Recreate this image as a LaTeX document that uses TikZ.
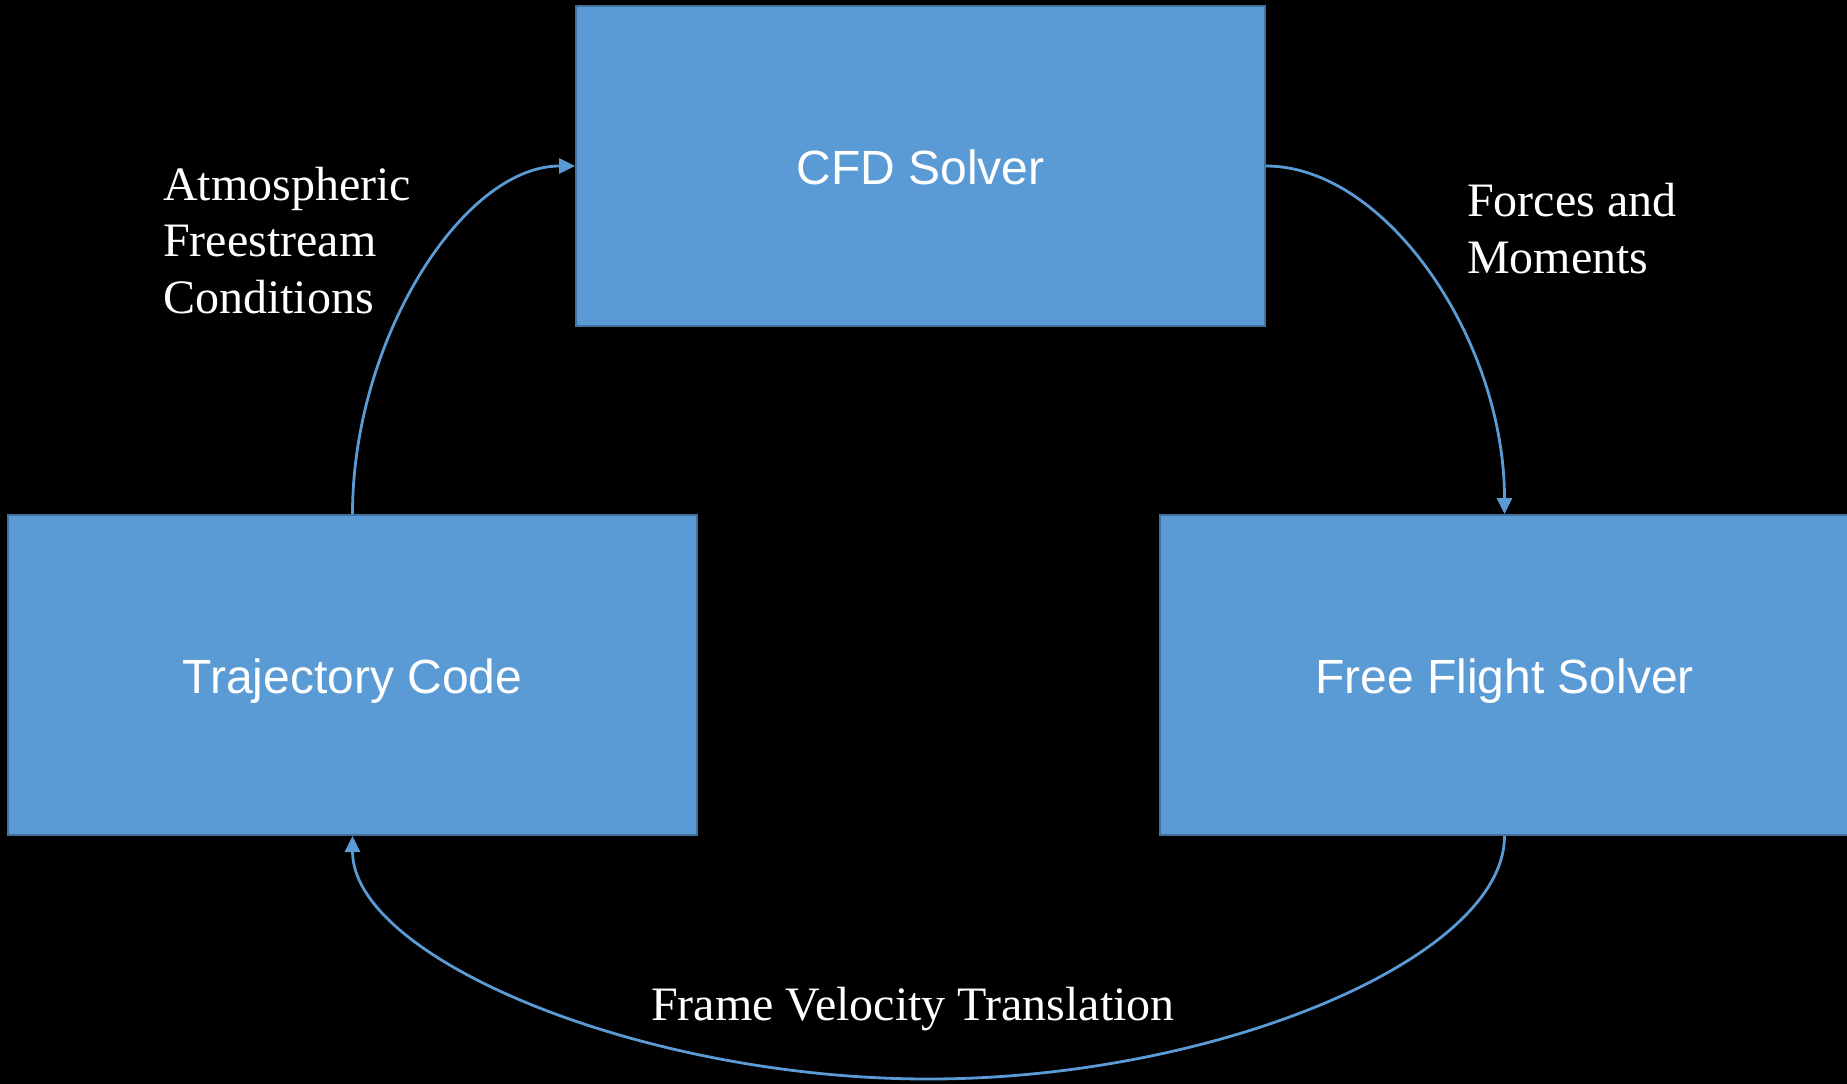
\documentclass[tikz,border=0pt]{standalone}
\usepackage{fontspec}
\setmainfont{Liberation Serif}
\newfontfamily\boxfont{Liberation Sans}
\usetikzlibrary{arrows.meta,calc}
\definecolor{boxfill}{HTML}{5B9BD5}
\definecolor{boxline}{HTML}{41719C}
\definecolor{connblue}{HTML}{5B9BD5}
\begin{document}
\begin{tikzpicture}[x=1pt,y=-1pt,
  block/.style={draw=boxline, line width=2pt, fill=boxfill, rectangle,
    minimum width=689pt, minimum height=320pt, inner sep=0pt,
    text=white, font=\boxfont\fontsize{48}{57}\selectfont,
    text height=40pt, text depth=3pt},
  conn/.style={draw=connblue, line width=2.8pt,
    -{Triangle[length=16pt,width=15pt]}},
  lbl/.style={text=white, inner sep=0pt, align=left,
    font=\fontsize{48}{56.5}\selectfont}]
\fill[black] (0,0) rectangle (1847,1084);
\useasboundingbox (0,0) rectangle (1847,1084);
\node[block] (cfd) at (920.5,166) {CFD Solver};
\node[block] (traj) at (352.5,675) {Trajectory Code};
\node[block] (ff) at (1504.5,675) {Free Flight Solver};
\draw[conn] (traj.north) .. controls ($(traj.north)+(0,-174.5)$) and ($(cfd.west)+(-112,0)$) .. (cfd.west);
\draw[conn] (cfd.east) .. controls ($(cfd.east)+(119.75,0)$) and ($(ff.north)+(0,-174.5)$) .. (ff.north);
\coordinate (bot) at (928.5,1079);
\draw[conn] (ff.south) .. controls ($(ff.south)+(0,122)$) and ($(bot)+(288,0)$) .. (bot)
  .. controls ($(bot)+(-288,0)$) and ($(traj.south)+(0,122)$) .. (traj.south);
\node[lbl, anchor=base west] (atm) at (163,313) {Atmospheric\\Freestream\\Conditions};
\node[lbl, anchor=base west] (fm) at (1467,273) {Forces and\\Moments};
\node[lbl, anchor=base] (fvt) at (913,1020) {Frame Velocity Translation};
\end{tikzpicture}
\end{document}
